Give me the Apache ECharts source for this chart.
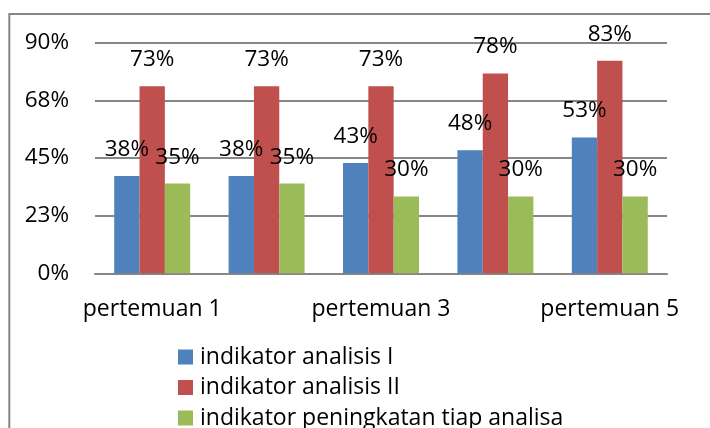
<!DOCTYPE html>
<html>
<head>
<meta charset="utf-8">
<script src="https://cdn.jsdelivr.net/npm/echarts@6/dist/echarts.min.js"></script>
<style>
html,body{margin:0;padding:0;background:#fff;}
#chart{width:710px;height:428px;}
</style>
</head>
<body>
<div id="chart"></div>
<script>
var categories = ['pertemuan 1', 'pertemuan 2', 'pertemuan 3', 'pertemuan 4', 'pertemuan 5'];
var seriesNames = ['indikator analisis I', 'indikator analisis II', 'indikator peningkatan tiap analisa'];
var analisis1 = [38, 38, 43, 48, 53];
var analisis2 = [73, 73, 73, 78, 83];
var peningkatan = [35, 35, 30, 30, 30];
var yTicks = [0, 22.5, 45, 67.5, 90];

var FONT = '"Open Sans", sans-serif';
var FS = 22.5;
var colors = ['#4F81BD', '#C0504D', '#9BBB59'];

function mkSeries(name, data, color) {
  return {
    name: name,
    type: 'bar',
    data: data,
    barGap: '0%',
    barCategoryGap: '33.6%',
    itemStyle: { color: color },
    label: {
      show: true,
      position: 'top',
      distance: 15,
      color: '#000',
      fontFamily: FONT,
      fontSize: FS,
      formatter: function (p) { return p.value + '%'; }
    }
  };
}

var legendTops = [345.5, 376, 406.5];
var legends = seriesNames.map(function (n, i) {
  return {
    orient: 'vertical',
    left: 178,
    top: legendTops[i],
    padding: 0,
    itemWidth: 15,
    itemHeight: 15,
    icon: 'rect',
    textStyle: { fontFamily: FONT, fontSize: 23, lineHeight: 22, color: '#000', padding: [0, 0, 0, 2] },
    data: [n]
  };
});

var chart = echarts.init(document.getElementById('chart'), null, { renderer: 'canvas' });
chart.setOption({
  animation: false,
  backgroundColor: '#fff',
  textStyle: { fontFamily: FONT },
  graphic: [{
    type: 'rect',
    shape: { x: 9.3, y: 14, width: 800, height: 500 },
    style: { fill: 'none', stroke: '#868686', lineWidth: 2 },
    silent: true,
    z: -10
  }],
  grid: { left: 95, right: 43, top: 42.7, bottom: 154.7, containLabel: false },
  legend: legends,
  xAxis: {
    type: 'category',
    data: categories,
    axisLine: { show: true, lineStyle: { color: '#868686', width: 2 } },
    axisTick: { show: false },
    axisLabel: { interval: 1, color: '#000', fontFamily: FONT, fontSize: 23, margin: 25 },
    splitLine: { show: false }
  },
  yAxis: {
    type: 'value',
    min: yTicks[0],
    max: yTicks[yTicks.length - 1],
    interval: yTicks[1] - yTicks[0],
    axisLine: { show: false },
    axisTick: { show: false },
    axisLabel: {
      color: '#000', fontFamily: FONT, fontSize: FS, margin: 26,
      formatter: function (v) { return Math.round(v) + '%'; }
    },
    splitLine: { show: true, lineStyle: { color: '#868686', width: 2 } }
  },
  series: [
    mkSeries(seriesNames[0], analisis1, colors[0]),
    mkSeries(seriesNames[1], analisis2, colors[1]),
    mkSeries(seriesNames[2], peningkatan, colors[2])
  ]
});
</script>
</body>
</html>
